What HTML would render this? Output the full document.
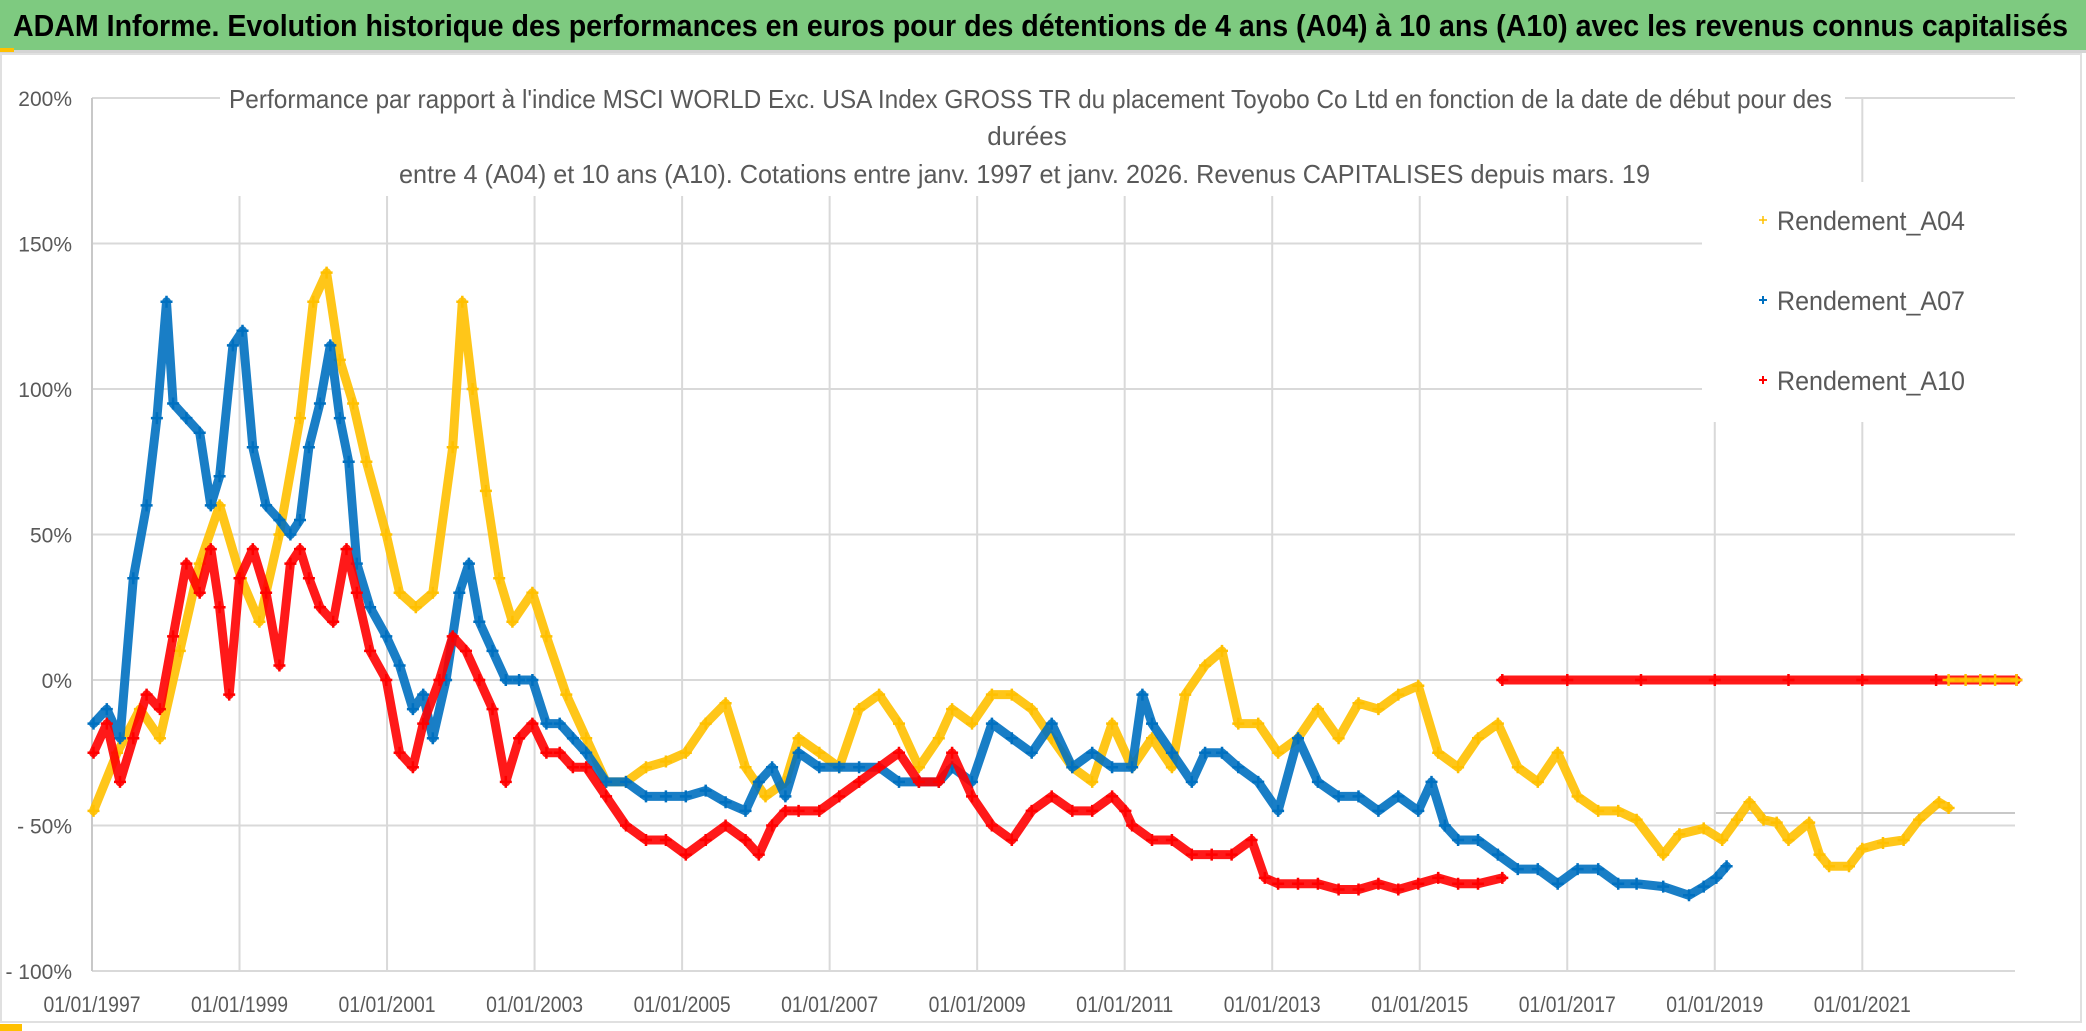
<!DOCTYPE html>
<html><head><meta charset="utf-8">
<style>
html,body{margin:0;padding:0;background:#fff;}
svg{display:block;font-family:"Liberation Sans",sans-serif;}
</style></head>
<body>
<svg id="chart" width="2086" height="1031" viewBox="0 0 2086 1031" xmlns="http://www.w3.org/2000/svg">
  <rect x="0" y="0" width="2086" height="1031" fill="#fff"/>
  <rect x="0" y="0" width="2086" height="50" fill="#7ECA80"/>
  <rect x="0" y="50" width="2086" height="3" fill="#d4d4d4"/>
  <rect x="0" y="48" width="14" height="4" fill="#FFC000"/>
  <text x="13" y="36" font-size="31" font-weight="bold" fill="#000" textLength="2055" lengthAdjust="spacingAndGlyphs">ADAM Informe. Evolution historique des performances en euros pour des détentions de 4 ans (A04) à 10 ans (A10) avec les revenus connus capitalisés</text>
  <rect x="1" y="54" width="2080" height="968" fill="none" stroke="#e0e0e0" stroke-width="2"/>
  <rect x="0" y="1024" width="22" height="7" fill="#FFC000"/>
  <g id="grid"></g>
  <g id="yticks"></g>
  <g id="xticks"></g>
  <g id="series"></g>
  <rect x="220" y="70" width="1625" height="126" fill="#fff"/>
  <text x="229" y="108" font-size="26" fill="#595959" textLength="1603" lengthAdjust="spacingAndGlyphs">Performance par rapport à l'indice MSCI WORLD Exc. USA Index GROSS TR  du placement Toyobo Co Ltd en fonction de la date de début pour des</text>
  <text x="1027" y="145" font-size="26" fill="#595959" text-anchor="middle">durées</text>
  <text x="399" y="183" font-size="26" fill="#595959" textLength="1251" lengthAdjust="spacingAndGlyphs">entre 4 (A04) et 10 ans (A10). Cotations entre janv. 1997 et janv. 2026. Revenus CAPITALISES depuis mars. 19</text>
  <g>
    <rect x="1702" y="182" width="313" height="240" fill="#fff"/>
    <g>
      <path d="M1759 220h8M1763 216v8" stroke="#FFC000" stroke-width="1.5"/>
      <text x="1777" y="230" font-size="27" fill="#595959" textLength="188" lengthAdjust="spacingAndGlyphs">Rendement_A04</text>
    </g>
    <g>
      <path d="M1759 300h8M1763 296v8" stroke="#0070C0" stroke-width="2"/>
      <text x="1777" y="310" font-size="27" fill="#595959" textLength="188" lengthAdjust="spacingAndGlyphs">Rendement_A07</text>
    </g>
    <g>
      <path d="M1759 380h8M1763 376v8" stroke="#FF0000" stroke-width="2"/>
      <text x="1777" y="390" font-size="27" fill="#595959" textLength="188" lengthAdjust="spacingAndGlyphs">Rendement_A10</text>
    </g>
  </g>
</svg>
<script>
// ---- data ----
const yTickValues = [200, 150, 100, 50, 0, -50, -100];
const yTickLabels = ["200%", "150%", "100%", "50%", "0%", "- 50%", "- 100%"];
const xTickYears = [1997, 1999, 2001, 2003, 2005, 2007, 2009, 2011, 2013, 2015, 2017, 2019, 2021];
const xTickLabels = ["01/01/1997","01/01/1999","01/01/2001","01/01/2003","01/01/2005","01/01/2007","01/01/2009","01/01/2011","01/01/2013","01/01/2015","01/01/2017","01/01/2019","01/01/2021"];

const a04Years = [1997.02,1997.34,1997.65,1997.92,1998.19,1998.46,1998.73,1999.02,1999.27,1999.54,1999.82,2000.0,2000.18,2000.36,2000.54,2000.72,2000.99,2001.17,2001.39,2001.62,2001.89,2002.02,2002.16,2002.34,2002.52,2002.70,2002.97,2003.16,2003.43,2003.70,2003.97,2004.24,2004.51,2004.78,2005.05,2005.32,2005.59,2005.86,2006.13,2006.40,2006.58,2006.86,2007.13,2007.40,2007.67,2007.94,2008.21,2008.48,2008.66,2008.93,2009.20,2009.47,2009.74,2010.01,2010.29,2010.56,2010.83,2011.10,2011.37,2011.64,2011.82,2012.09,2012.32,2012.54,2012.81,2013.08,2013.35,2013.62,2013.90,2014.17,2014.44,2014.71,2014.98,2015.25,2015.52,2015.79,2016.06,2016.33,2016.60,2016.87,2017.14,2017.42,2017.69,2017.94,2018.30,2018.52,2018.85,2019.10,2019.30,2019.47,2019.66,2019.84,2020.00,2020.28,2020.42,2020.55,2020.82,2021.00,2021.28,2021.56,2021.77,2022.04,2022.17];
const a04Values = [-45,-25,-10,-20,10,40,60,35,20,50,90,130,140,110,95,75,50,30,25,30,80,130,100,65,35,20,30,15,-5,-20,-35,-35,-30,-28,-25,-15,-8,-30,-40,-35,-20,-25,-30,-10,-5,-15,-30,-20,-10,-15,-5,-5,-10,-20,-30,-35,-15,-30,-20,-30,-5,5,10,-15,-15,-25,-20,-10,-20,-8,-10,-5,-2,-25,-30,-20,-15,-30,-35,-25,-40,-45,-45,-48,-60,-53,-51,-55,-48,-42,-48,-49,-55,-49,-60,-64,-64,-58,-56,-55,-48,-42,-44];
const a04FlatYears = [2022.17, 2022.4, 2022.6, 2022.8, 2023.09];
const a04FlatValues = [0, 0, 0, 0, 0];

const a07Years = [1997.02,1997.20,1997.38,1997.56,1997.74,1997.88,1998.01,1998.10,1998.28,1998.46,1998.61,1998.73,1998.91,1999.04,1999.18,1999.36,1999.54,1999.69,1999.82,1999.94,2000.09,2000.23,2000.36,2000.48,2000.59,2000.77,2000.99,2001.17,2001.35,2001.49,2001.62,2001.80,2001.98,2002.11,2002.25,2002.43,2002.61,2002.79,2002.97,2003.16,2003.34,2003.52,2003.70,2003.97,2004.24,2004.51,2004.78,2005.05,2005.32,2005.59,2005.86,2006.04,2006.22,2006.40,2006.58,2006.86,2007.13,2007.40,2007.67,2007.94,2008.21,2008.48,2008.66,2008.93,2009.20,2009.47,2009.74,2010.01,2010.29,2010.56,2010.83,2011.10,2011.24,2011.37,2011.64,2011.91,2012.09,2012.32,2012.54,2012.81,2013.08,2013.35,2013.62,2013.90,2014.17,2014.44,2014.71,2014.98,2015.16,2015.34,2015.52,2015.79,2016.06,2016.33,2016.60,2016.87,2017.14,2017.42,2017.69,2017.94,2018.30,2018.65,2018.85,2019.02,2019.16];
const a07Values = [-15,-10,-20,35,60,90,130,95,90,85,60,70,115,120,80,60,55,50,55,80,95,115,90,75,40,25,15,5,-10,-5,-20,0,30,40,20,10,0,0,0,-15,-15,-20,-25,-35,-35,-40,-40,-40,-38,-42,-45,-35,-30,-40,-25,-30,-30,-30,-30,-35,-35,-35,-30,-35,-15,-20,-25,-15,-30,-25,-30,-30,-5,-15,-25,-35,-25,-25,-30,-35,-45,-20,-35,-40,-40,-45,-40,-45,-35,-50,-55,-55,-60,-65,-65,-70,-65,-65,-70,-70,-71,-74,-71,-68,-64,-65];

const a10Years = [1997.02,1997.20,1997.38,1997.56,1997.74,1997.92,1998.10,1998.28,1998.46,1998.61,1998.73,1998.86,1999.00,1999.18,1999.36,1999.54,1999.69,1999.82,1999.94,2000.09,2000.27,2000.45,2000.59,2000.77,2000.99,2001.17,2001.35,2001.49,2001.71,2001.89,2002.07,2002.25,2002.43,2002.61,2002.79,2002.97,2003.16,2003.34,2003.52,2003.70,2003.97,2004.24,2004.51,2004.78,2005.05,2005.32,2005.59,2005.86,2006.04,2006.22,2006.40,2006.58,2006.86,2007.13,2007.40,2007.67,2007.94,2008.21,2008.48,2008.66,2008.93,2009.20,2009.47,2009.74,2010.01,2010.29,2010.56,2010.83,2011.01,2011.10,2011.37,2011.64,2011.91,2012.18,2012.45,2012.72,2012.90,2013.08,2013.35,2013.62,2013.90,2014.17,2014.44,2014.71,2014.98,2015.25,2015.52,2015.79,2016.12];
const a10Values = [-25,-15,-35,-20,-5,-10,15,40,30,45,25,-5,35,45,30,5,40,45,35,25,20,45,30,10,0,-25,-30,-15,0,15,10,0,-10,-35,-20,-15,-25,-25,-30,-30,-40,-50,-55,-55,-60,-55,-50,-55,-60,-50,-45,-45,-45,-40,-35,-30,-25,-35,-35,-25,-40,-50,-55,-45,-40,-45,-45,-40,-45,-50,-55,-55,-60,-60,-60,-55,-68,-70,-70,-70,-72,-72,-70,-72,-70,-68,-70,-70,-68];
const a10FlatYears = [2016.12, 2017.0, 2018.0, 2019.0, 2020.0, 2021.0, 2022.0, 2023.09];
const a10FlatValues = [0, 0, 0, 0, 0, 0, 0, 0];

// ---- scales ----
const X0 = 92, X1 = 2015, YEAR0 = 1997, YEAR1 = 2023.07;
const Y_TOP = 98, Y_BOT = 971, V_TOP = 200, V_BOT = -100;
function xs(yr){ return X0 + (yr - YEAR0) / (YEAR1 - YEAR0) * (X1 - X0); }
function ys(v){ return Y_TOP + (V_TOP - v) / (V_TOP - V_BOT) * (Y_BOT - Y_TOP); }

const NS = "http://www.w3.org/2000/svg";
function mk(tag, attrs, parent){
  const e = document.createElementNS(NS, tag);
  for (const k in attrs) e.setAttribute(k, attrs[k]);
  parent.appendChild(e);
  return e;
}

const grid = document.getElementById("grid");
const yt = document.getElementById("yticks");
const xt = document.getElementById("xticks");

yTickValues.forEach((v, i) => {
  const l = mk("line", {x1: X0, x2: X1, y1: ys(v), y2: ys(v), stroke: "#d9d9d9", "stroke-width": 2}, grid);
  
  
  const t = mk("text", {x: 72, y: ys(v) + 8, "font-size": 21, fill: "#595959", "text-anchor": "end"}, yt);
  t.textContent = yTickLabels[i];
  
  
});
xTickYears.forEach((yr, i) => {
  const l = mk("line", {x1: xs(yr), x2: xs(yr), y1: Y_TOP, y2: Y_BOT, stroke: i === 0 ? "#c8c8c8" : "#d9d9d9", "stroke-width": 2}, grid);
  
  
  const t = mk("text", {x: xs(yr), y: 1012, "font-size": 22, fill: "#595959", "text-anchor": "middle", textLength: 97, lengthAdjust: "spacingAndGlyphs"}, xt);
  t.textContent = xTickLabels[i];
  
  
});
const extra = mk("line", {x1: 1716, x2: X1, y1: 813, y2: 813, stroke: "#c8c8c8", "stroke-width": 2}, grid);



const seriesG = document.getElementById("series");
function drawSeries(years, values, color, name, band){
  const g = mk("g", {}, seriesG);
  
  
  const pts = years.map((yr, i) => xs(yr).toFixed(1) + "," + ys(values[i]).toFixed(1)).join(" ");
  const pl = mk("polyline", {points: pts, fill: "none", stroke: color, "stroke-width": band, "stroke-linejoin": "round", "stroke-linecap": "round", opacity: 0.9}, g);
  
  
  let d = "";
  years.forEach((yr, i) => {
    const x = xs(yr), y = ys(values[i]);
    d += "M" + (x - 6).toFixed(1) + " " + y.toFixed(1) + "h12M" + x.toFixed(1) + " " + (y - 6).toFixed(1) + "v12";
  });
  const mp = mk("path", {d: d, stroke: color, "stroke-width": 2.5, fill: "none"}, g);
  
  
}
drawSeries(a04Years, a04Values, "#FFC000", "series-a04", 9);
drawSeries(a07Years, a07Values, "#0070C0", "series-a07", 9);
drawSeries(a10Years, a10Values, "#FF0000", "series-a10", 9);
drawSeries(a10FlatYears, a10FlatValues, "#FF0000", "series-a10-flat", 9);
drawSeries(a04FlatYears, a04FlatValues, "#FFC000", "series-a04-flat", 5);
</script>
</body></html>
